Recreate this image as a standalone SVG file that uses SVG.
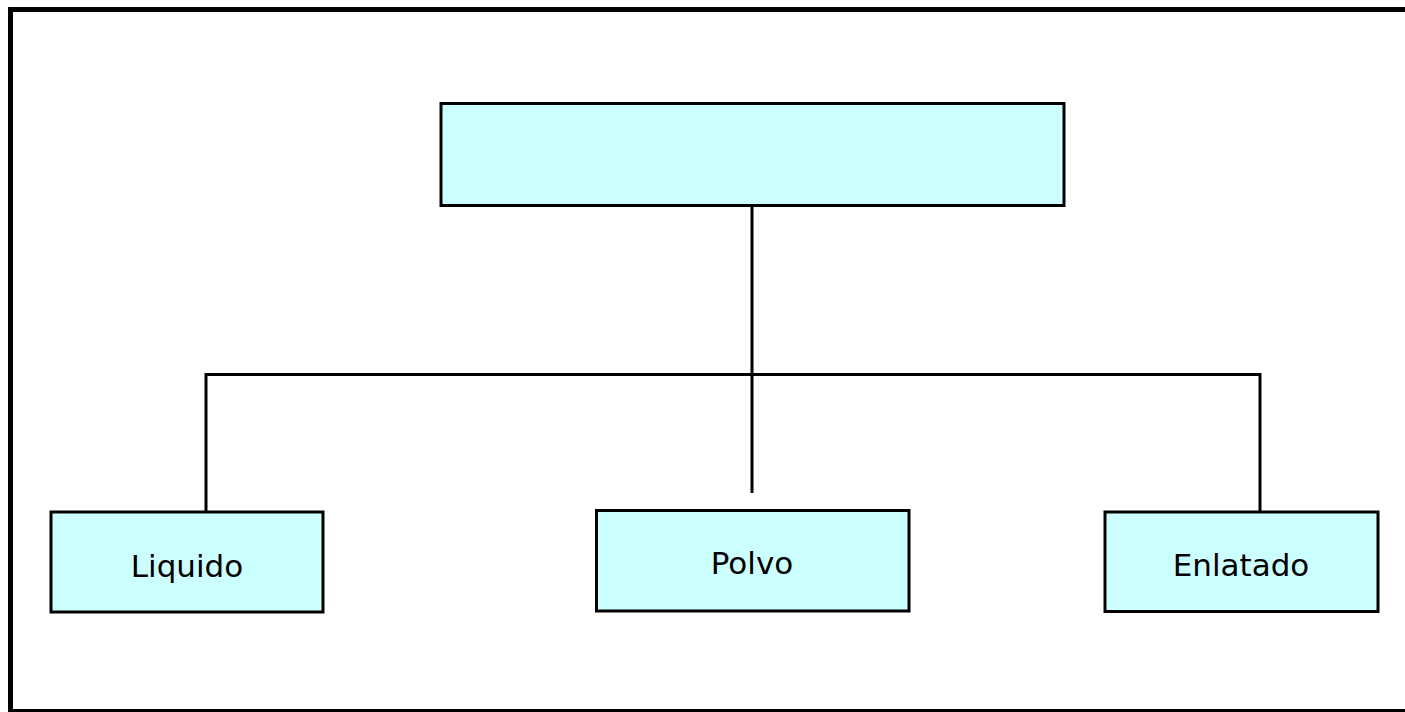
<svg xmlns="http://www.w3.org/2000/svg" width="1405" height="712" viewBox="0 0 1405 712">
<style>
.box{fill:#CCFFFF;stroke:#000;stroke-width:3}
.lbl{font-family:"DejaVu Sans",Verdana,sans-serif;font-size:31px;fill:#000;text-anchor:middle}
.conn{fill:none;stroke:#000;stroke-width:3}
</style>
<rect x="0" y="0" width="1405" height="712" fill="#fff"/>
<rect id="frame" x="10.5" y="9.5" width="1400" height="702" fill="none" stroke="#000" stroke-width="5"/>
<g id="connectors">
<line class="conn" x1="752" y1="205" x2="752" y2="493"/>
<polyline class="conn" points="206,512 206,374.5 1260,374.5 1260,512"/>
</g>
<g id="root">
<rect class="box" x="441" y="103.5" width="623" height="102"/>
</g>
<g id="liquido">
<rect class="box" x="51" y="512" width="272" height="100"/>
<text class="lbl" x="187" y="576.5">Liquido</text>
</g>
<g id="polvo">
<rect class="box" x="596.5" y="510.5" width="312.5" height="100.5"/>
<text class="lbl" x="752" y="573.5">Polvo</text>
</g>
<g id="enlatado">
<rect class="box" x="1105" y="512" width="273" height="99.5"/>
<text class="lbl" x="1241" y="576">Enlatado</text>
</g>
</svg>
